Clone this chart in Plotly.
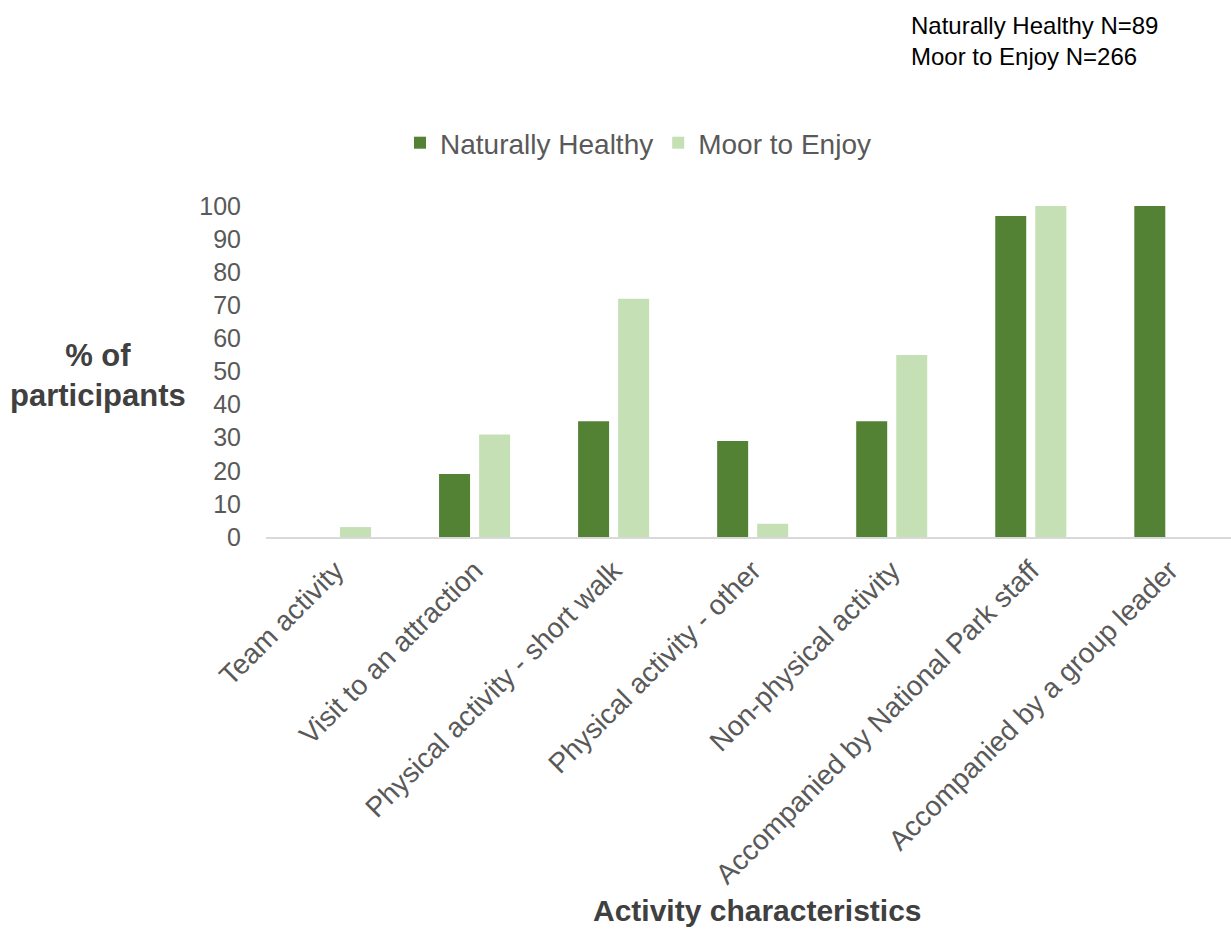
import plotly.graph_objects as go

categories = [
    "Team activity",
    "Visit to an attraction",
    "Physical activity - short walk",
    "Physical activity - other",
    "Non-physical activity",
    "Accompanied by National Park staff",
    "Accompanied by a group leader",
]
naturally_healthy = [0, 19, 35, 29, 35, 97, 100]
moor_to_enjoy = [3, 31, 72, 4, 55, 100, None]
y_ticks = [0, 10, 20, 30, 40, 50, 60, 70, 80, 90, 100]

FONT = "Liberation Sans, Arial, sans-serif"
GREY = "#595959"

W, H = 1231, 931
L, R, T, B = 266, 0, 206, 394

def px_x(x):
    return (x - L) / (W - L - R)

def px_y(y):
    return (H - B - y) / (H - T - B)

fig = go.Figure()
fig.add_trace(go.Bar(name="Naturally Healthy", x=categories, y=naturally_healthy,
                     marker=dict(color="#548235", line=dict(width=0))))
fig.add_trace(go.Bar(name="Moor to Enjoy", x=categories, y=moor_to_enjoy,
                     marker=dict(color="#C5E0B4", line=dict(width=0))))

fig.update_layout(
    width=W, height=H,
    margin=dict(l=L, r=R, t=T, b=B, pad=0),
    paper_bgcolor="white", plot_bgcolor="white",
    barmode="group", bargap=0.424, bargroupgap=0.226,
    font=dict(family=FONT, color=GREY, size=25),
    showlegend=True,
    legend=dict(orientation="h", x=px_x(638), xanchor="center",
                y=px_y(143), yanchor="middle",
                font=dict(size=28, color=GREY, family=FONT),
                bgcolor="rgba(0,0,0,0)"),
    xaxis=dict(type="category", range=[-0.5, 6.44], tickangle=-45,
               showline=True, linecolor="#D9D9D9", linewidth=2,
               showgrid=False, ticks="", zeroline=False,
               ticklabelstandoff=4,
               tickfont=dict(size=28, color=GREY, family=FONT)),
    yaxis=dict(range=[0, 100], tickvals=y_ticks, showgrid=False,
               showline=False, zeroline=False, ticks="",
               ticklabelstandoff=24,
               tickfont=dict(size=25, color=GREY, family=FONT)),
    annotations=[
        dict(text="<b>% of<br>participants</b>", xref="paper", yref="paper",
             x=px_x(98), y=px_y(375), xanchor="center", yanchor="middle",
             showarrow=False, align="center",
             font=dict(size=31, color="#404040", family=FONT)),
        dict(text="<b>Activity characteristics</b>", xref="paper", yref="paper",
             x=px_x(757), y=px_y(910), xanchor="center", yanchor="middle",
             showarrow=False,
             font=dict(size=30, color="#404040", family=FONT)),
        dict(text="Naturally Healthy N=89<br>Moor to Enjoy N=266", xref="paper", yref="paper",
             x=px_x(909), y=px_y(10), xanchor="left", yanchor="top",
             showarrow=False, align="left",
             font=dict(size=24, color="#000000", family=FONT)),
    ],
)

fig.write_html("out.html")
